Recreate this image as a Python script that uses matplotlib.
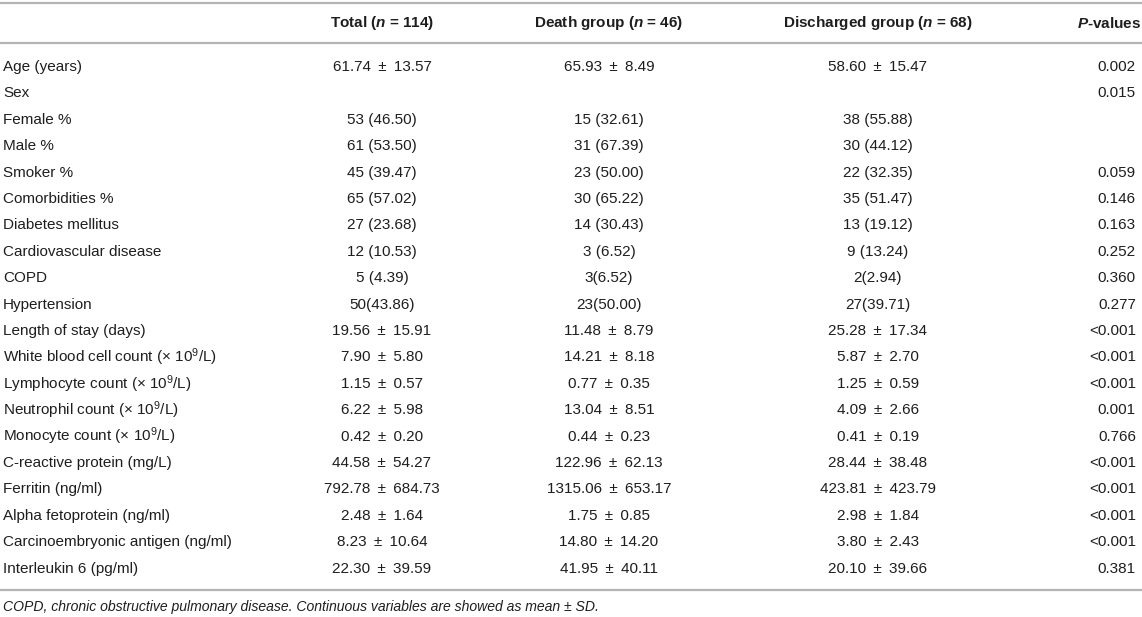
import matplotlib
matplotlib.use("Agg")
import matplotlib.pyplot as plt

plt.rcParams['font.family'] = ['Liberation Sans', 'DejaVu Sans']
plt.rcParams['mathtext.fontset'] = 'custom'
plt.rcParams['mathtext.rm'] = 'Liberation Sans'
plt.rcParams['mathtext.it'] = 'Liberation Sans:italic'
plt.rcParams['mathtext.bf'] = 'Liberation Sans:bold'
plt.rcParams['mathtext.bfit'] = 'Liberation Sans:bold:italic'

headers = [r"Total ($\mathbfit{n}$ = 114)", r"Death group ($\mathbfit{n}$ = 46)",
           r"Discharged group ($\mathbfit{n}$ = 68)", r"$\mathbfit{P}$-values"]

labels = ["Age (years)", "Sex", "Female %", "Male %", "Smoker %", "Comorbidities %",
          "Diabetes mellitus", "Cardiovascular disease", "COPD", "Hypertension",
          "Length of stay (days)", r"White blood cell count ($\times$ 10$^{9}$/L)",
          r"Lymphocyte count ($\times$ 10$^{9}$/L)", r"Neutrophil count ($\times$ 10$^{9}$/L)",
          r"Monocyte count ($\times$ 10$^{9}$/L)", "C-reactive protein (mg/L)",
          "Ferritin (ng/ml)", "Alpha fetoprotein (ng/ml)",
          "Carcinoembryonic antigen (ng/ml)", "Interleukin 6 (pg/ml)"]

total = ["61.74 ± 13.57", "", "53 (46.50)", "61 (53.50)", "45 (39.47)", "65 (57.02)",
         "27 (23.68)", "12 (10.53)", "5 (4.39)", "50(43.86)", "19.56 ± 15.91",
         "7.90 ± 5.80", "1.15 ± 0.57", "6.22 ± 5.98", "0.42 ± 0.20", "44.58 ± 54.27",
         "792.78 ± 684.73", "2.48 ± 1.64", "8.23 ± 10.64", "22.30 ± 39.59"]

death = ["65.93 ± 8.49", "", "15 (32.61)", "31 (67.39)", "23 (50.00)", "30 (65.22)",
         "14 (30.43)", "3 (6.52)", "3(6.52)", "23(50.00)", "11.48 ± 8.79",
         "14.21 ± 8.18", "0.77 ± 0.35", "13.04 ± 8.51", "0.44 ± 0.23", "122.96 ± 62.13",
         "1315.06 ± 653.17", "1.75 ± 0.85", "14.80 ± 14.20", "41.95 ± 40.11"]

discharged = ["58.60 ± 15.47", "", "38 (55.88)", "30 (44.12)", "22 (32.35)", "35 (51.47)",
              "13 (19.12)", "9 (13.24)", "2(2.94)", "27(39.71)", "25.28 ± 17.34",
              "5.87 ± 2.70", "1.25 ± 0.59", "4.09 ± 2.66", "0.41 ± 0.19", "28.44 ± 38.48",
              "423.81 ± 423.79", "2.98 ± 1.84", "3.80 ± 2.43", "20.10 ± 39.66"]

pvals = ["0.002", "0.015", "", "", "0.059", "0.146", "0.163", "0.252", "0.360", "0.277",
         "<0.001", "<0.001", "<0.001", "0.001", "0.766", "<0.001", "<0.001", "<0.001",
         "<0.001", "0.381"]

footnote = "COPD, chronic obstructive pulmonary disease. Continuous variables are showed as mean ± SD."

fig = plt.figure(figsize=(11.42, 6.17), dpi=100)
ax = fig.add_axes([0, 0, 1, 1])
ax.set_xlim(0, 1142)
ax.set_ylim(617, 0)
ax.axis('off')

fs = 11
col_x = [382, 609, 878]
p_x = 1136
line_c = '#b4b4b4'
txt_c = '#1e1e1e'


def wide_pm(s):
    # the source typesets ± with math spacing, a bit wider than a plain space
    return s.replace(" ± ", " \u2009±\u2009 ")


# header row
for x, h in zip(col_x, headers[:3]):
    ax.text(x, 23, h, ha='center', va='center', fontsize=fs, fontweight='bold', color=txt_c)
ax.text(1141, 23, headers[3], ha='right', va='center', fontsize=fs, fontweight='bold', color=txt_c)

ax.plot([0, 1142], [3, 3], color=line_c, lw=1.6, solid_capstyle='butt')
ax.plot([0, 1142], [43, 43], color=line_c, lw=1.6, solid_capstyle='butt')

y0 = 67
dy = 26.4
for i, lab in enumerate(labels):
    y = y0 + i * dy
    ax.text(3, y, lab, ha='left', va='center', fontsize=fs, color=txt_c)
    for x, col in zip(col_x, [total, death, discharged]):
        ax.text(x, y, wide_pm(col[i]), ha='center', va='center', fontsize=fs, color=txt_c)
    ax.text(p_x, y, pvals[i], ha='right', va='center', fontsize=fs, color=txt_c)

ax.plot([0, 1142], [590, 590], color=line_c, lw=1.6, solid_capstyle='butt')
ax.text(3, 607, footnote, ha='left', va='center', fontsize=10.1, style='italic', color=txt_c)

fig.savefig("out.png", dpi=100, facecolor='white')
